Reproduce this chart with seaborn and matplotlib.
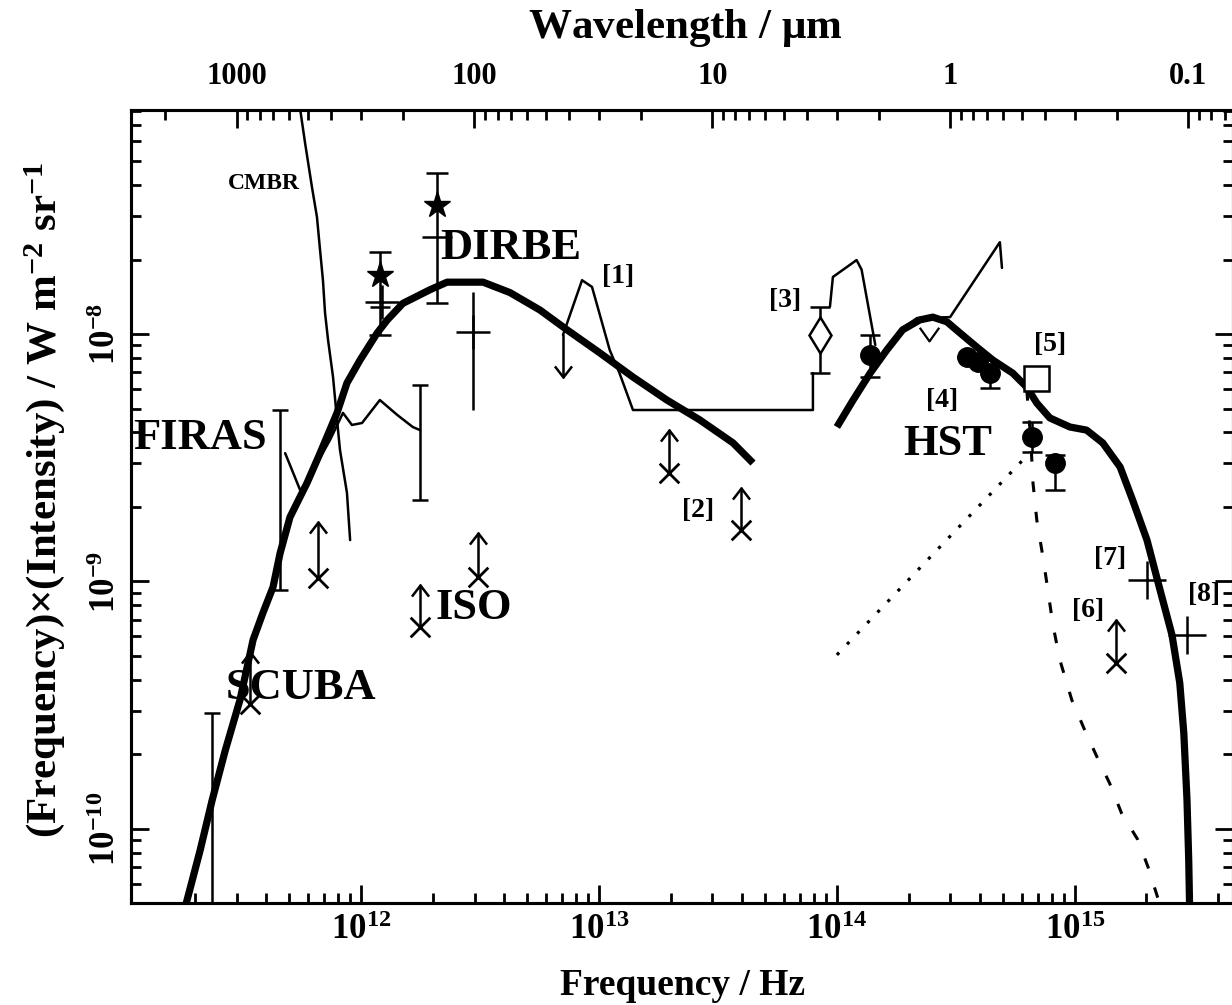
import numpy as np
import pandas as pd
import matplotlib
matplotlib.use("Agg")
import matplotlib.pyplot as plt
from matplotlib.path import Path
from matplotlib.ticker import LogLocator, NullFormatter, FuncFormatter, FixedLocator
import seaborn as sns

# ---------------- data (frequency in Hz, nu*I_nu in W m^-2 sr^-1) ----------------
fir_model_nu = [1.79e11, 2.11e11, 2.37e11, 2.69e11, 3.10e11, 3.52e11, 3.87e11, 4.27e11,
                4.57e11, 5.03e11, 5.93e11, 6.73e11, 7.93e11, 8.73e11, 9.91e11, 1.17e12,
                1.29e12, 1.50e12, 1.95e12, 2.30e12, 3.26e12, 4.23e12, 5.65e12, 7.34e12,
                1.01e13, 1.39e13, 1.93e13, 2.65e13, 3.66e13, 4.44e13]
fir_model_I = [4.5e-11, 8.22e-11, 1.31e-10, 2.08e-10, 3.32e-10, 5.81e-10, 7.46e-10, 9.50e-10,
               1.30e-9, 1.82e-9, 2.50e-9, 3.30e-9, 4.80e-9, 6.34e-9, 7.85e-9, 1.01e-8,
               1.14e-8, 1.33e-8, 1.51e-8, 1.62e-8, 1.62e-8, 1.47e-8, 1.25e-8, 1.04e-8,
               8.38e-9, 6.70e-9, 5.41e-9, 4.50e-9, 3.63e-9, 3.01e-9]

opt_model_nu = [1.00e14, 1.17e14, 1.38e14, 1.62e14, 1.89e14, 2.23e14, 2.53e14, 2.90e14,
                3.29e14, 3.87e14, 4.52e14, 5.48e14, 6.28e14, 6.92e14, 7.85e14, 9.53e14,
                1.12e15, 1.31e15, 1.55e15, 1.75e15, 2.01e15, 2.28e15, 2.56e15, 2.76e15,
                2.87e15, 2.96e15, 3.01e15, 3.04e15]
opt_model_I = [4.21e-9, 5.41e-9, 6.95e-9, 8.61e-9, 1.04e-8, 1.14e-8, 1.17e-8, 1.12e-8,
               1.01e-8, 8.86e-9, 7.85e-9, 6.95e-9, 6.10e-9, 5.26e-9, 4.58e-9, 4.21e-9,
               4.09e-9, 3.63e-9, 2.90e-9, 2.13e-9, 1.47e-9, 9.25e-10, 6.08e-10, 3.89e-10,
               2.44e-10, 1.31e-10, 7.50e-11, 4.50e-11]

stars_nu = [6.28e14, 6.53e14, 6.67e14, 6.92e14, 7.34e14, 7.70e14, 8.09e14, 8.65e14,
            9.71e14, 1.10e15, 1.24e15, 1.40e15, 1.57e15, 1.84e15, 2.03e15, 2.28e15]
stars_I = [5.94e-9, 3.73e-9, 2.50e-9, 1.77e-9, 1.26e-9, 9.24e-10, 6.67e-10, 4.82e-10,
           3.32e-10, 2.51e-10, 1.95e-10, 1.53e-10, 1.16e-10, 9.04e-11, 7.02e-11, 4.93e-11]

dotted_nu = [1.00e14, 6.17e14]
dotted_I = [5.05e-10, 3.16e-9]

cmbr_nu = [5.44e11, 5.82e11, 6.22e11, 6.53e11, 6.73e11, 6.92e11, 7.06e11, 7.27e11,
           7.63e11, 7.93e11, 8.16e11, 8.73e11, 9.00e11]
cmbr_I = [9.25e-8, 5.92e-8, 3.93e-8, 2.97e-8, 2.18e-8, 1.65e-8, 1.22e-8, 9.46e-9,
          6.70e-9, 4.50e-9, 3.40e-9, 2.28e-9, 1.47e-9]

firas_nu = [4.80e11, 5.13e11, 5.55e11, 6.11e11, 6.73e11, 7.41e11, 8.40e11, 9.16e11,
            1.01e12, 1.20e12, 1.42e12, 1.65e12, 1.77e12]
firas_I = [3.30e-9, 2.82e-9, 2.34e-9, 2.57e-9, 3.16e-9, 3.73e-9, 4.80e-9, 4.29e-9,
           4.37e-9, 5.41e-9, 4.71e-9, 4.21e-9, 4.09e-9]

limit1_nu = [7.06e12, 8.49e12, 9.35e12, 1.11e13, 1.22e13, 1.39e13, 7.93e13, 7.93e13]
limit1_I = [9.91e-9, 1.65e-8, 1.55e-8, 8.61e-9, 6.95e-9, 4.93e-9, 4.93e-9, 6.95e-9]
limit3_nu = [9.35e13, 9.62e13, 1.21e14, 1.27e14, 1.34e14, 1.45e14]
limit3_I = [1.29e-8, 1.70e-8, 1.99e-8, 1.82e-8, 1.37e-8, 9.03e-9]
limit4_nu = [1.93e14, 2.17e14, 2.99e14, 4.84e14, 4.94e14]
limit4_I = [1.07e-8, 1.16e-8, 1.17e-8, 2.35e-8, 1.85e-8]

# upper limit arrow at start of [1]
ul_nu = [7.06e12]
ul_I = [9.91e-9]
ul_tip = [6.70e-9]

# error bars without central marker (FIRAS / SCUBA)
eb_nu = [4.57e11, 1.77e12, 2.37e11]
eb_I = [4.09e-9, 4.09e-9, 1.0e-10]
eb_lo = [9.25e-10, 2.13e-9, 3.0e-11]
eb_hi = [4.93e-9, 6.22e-9, 2.94e-10]

# DIRBE detections
dirbe_nu = [1.20e12, 2.08e12]
dirbe_I = [1.73e-8, 3.32e-8]
dirbe_lo = [9.9e-9, 1.33e-8]
dirbe_hi = [2.14e-8, 4.48e-8]

# cross markers with error bars
cross_nu = [1.22e12, 2.96e12]
cross_I = [1.35e-8, 1.02e-8]
cross_lo = [1.35e-8, 4.93e-9]
cross_hi = [1.35e-8, 1.48e-8]

# [7], [8] crosses
uv_cross_nu = [2.01e15, 2.96e15]
uv_cross_I = [1.01e-9, 6.08e-10]

# lower limits (X with upward arrow)
ll_nu = [6.59e11, 1.77e12, 3.10e12, 1.97e13, 3.96e13, 1.49e15, 3.40e11]
ll_I = [1.03e-9, 6.55e-10, 1.04e-9, 2.74e-9, 1.61e-9, 4.69e-10, 3.2e-10]
ll_tip = [1.74e-9, 9.68e-10, 1.57e-9, 4.09e-9, 2.39e-9, 6.98e-10, 5.2e-10]

# [3]
p3_nu = [8.49e13]
p3_I = [9.9e-9]
p3_lo = [6.95e-9]
p3_hi = [1.29e-8]

# HST / ground based galaxy counts
hst_nu = [1.38e14, 3.52e14, 3.91e14, 4.39e14, 6.59e14, 8.24e14]
hst_I = [8.22e-9, 8.07e-9, 7.70e-9, 6.95e-9, 3.84e-9, 3.01e-9]
hst_lo = [6.70e-9, 8.07e-9, 7.70e-9, 6.05e-9, 3.34e-9, 2.34e-9]
hst_hi = [9.9e-9, 8.07e-9, 7.70e-9, 7.4e-9, 4.41e-9, 3.24e-9]

sq_nu = [6.86e14]
sq_I = [6.64e-9]
v_nu = [2.44e14]
v_I = [9.73e-9]

# tick values
freq_ticks = [1e12, 1e13, 1e14, 1e15]
int_ticks = [1e-10, 1e-9, 1e-8]
wave_ticks = [1000, 100, 10, 1, 0.1]

XMIN, XMAX = 1.08e11, 4.62e15
YMIN, YMAX = 5.02e-11, 8.04e-8
C_UM = 2.998e14  # c in micron Hz

# ---------------- style ----------------
sns.set_theme(style="ticks")
plt.rcParams.update({
    "font.family": ["Liberation Serif", "DejaVu Serif"],
    "font.weight": "bold",
    "mathtext.fontset": "custom",
    "mathtext.rm": "Liberation Serif:bold",
    "mathtext.it": "Liberation Serif:bold",
    "mathtext.bf": "Liberation Serif:bold",
    "axes.linewidth": 2.2,
    "axes.edgecolor": "black",
    "xtick.color": "black",
    "ytick.color": "black",
    "text.color": "black",
})

fig = plt.figure(figsize=(12.32, 10.05), dpi=100)
fig.patch.set_facecolor("white")
ax = fig.add_axes([131 / 1232, 1 - 903 / 1005, 1102 / 1232, 793 / 1005])
ax.set_facecolor("white")
ax.set_xscale("log")
ax.set_yscale("log")

K = "black"


def line(nu, val, lw, **kw):
    df = pd.DataFrame({"nu": nu, "I": val})
    sns.lineplot(data=df, x="nu", y="I", sort=False, estimator=None, ax=ax,
                 color=K, lw=lw, legend=False, **kw)


# model curves
line(fir_model_nu, fir_model_I, 5.2, solid_capstyle="butt", solid_joinstyle="round")
line(opt_model_nu, opt_model_I, 5.2, solid_capstyle="butt", solid_joinstyle="round")
line(stars_nu, stars_I, 2.2, dashes=(3.5, 6.5))
ax.plot(dotted_nu, dotted_I, color=K, lw=2.3, linestyle=(0, (1, 3.6)))
# thin curves
line(cmbr_nu, cmbr_I, 1.8)
line(firas_nu, firas_I, 1.8)
line(limit1_nu, limit1_I, 1.8)
line(limit3_nu, limit3_I, 1.8)
line(limit4_nu, limit4_I, 1.8)

# arrows
chev_up = Path([(-1, -1.3), (0, 0), (1, -1.3)], [Path.MOVETO, Path.LINETO, Path.LINETO])
chev_dn = Path([(-1, 1.3), (0, 0), (1, 1.3)], [Path.MOVETO, Path.LINETO, Path.LINETO])
vee = Path([(-1, 1), (0, -0.4), (1, 1)], [Path.MOVETO, Path.LINETO, Path.LINETO])

for n, a, t in zip(ul_nu, ul_I, ul_tip):
    ax.plot([n, n], [a, t], color=K, lw=1.8)
    ax.plot([n], [t], marker=chev_dn, ms=16, mew=1.8, color=K, fillstyle="none")

for n, a, t in zip(ll_nu, ll_I, ll_tip):
    ax.plot([n, n], [a, t], color=K, lw=1.8)
    ax.plot([n], [t], marker=chev_up, ms=16, mew=1.8, color=K, fillstyle="none")
sns.scatterplot(x=ll_nu, y=ll_I, marker="x", s=200, linewidth=2, color=K, ax=ax, legend=False)


def asym(v, lo, hi):
    v = np.asarray(v)
    return [v - np.asarray(lo), np.asarray(hi) - v]


ax.errorbar(eb_nu, eb_I, yerr=asym(eb_I, eb_lo, eb_hi), fmt="none", ecolor=K,
            elinewidth=1.8, capsize=6, capthick=1.8)
ax.errorbar(dirbe_nu, dirbe_I, yerr=asym(dirbe_I, dirbe_lo, dirbe_hi), fmt="*", color=K,
            ms=20, elinewidth=1.8, capsize=8, capthick=1.8)
ax.errorbar(cross_nu, cross_I, yerr=asym(cross_I, cross_lo, cross_hi), fmt="+", color=K,
            ms=24, mew=1.8, elinewidth=1.8)
ax.plot([dirbe_nu[0]], [1.28e-8], marker="_", ms=14, mew=1.8, color=K)
ax.plot([dirbe_nu[1]], [2.47e-8], marker="_", ms=22, mew=1.8, color=K)
sns.scatterplot(x=uv_cross_nu, y=uv_cross_I, marker="+", s=750, linewidth=1.8, color=K,
                ax=ax, legend=False)
ax.errorbar(p3_nu, p3_I, yerr=asym(p3_I, p3_lo, p3_hi), fmt="d", color=K, mfc="white",
            ms=18, mew=1.8, elinewidth=1.8, capsize=7, capthick=1.8)
ax.errorbar(hst_nu, hst_I, yerr=asym(hst_I, hst_lo, hst_hi), fmt="o", color=K,
            ms=14, elinewidth=1.8, capsize=7, capthick=1.8)
ax.plot(sq_nu, sq_I, marker="s", ms=18, mew=1.8, color=K, mfc="white", linestyle="none")
ax.plot(v_nu, v_I, marker=vee, ms=14, mew=1.6, color=K, fillstyle="none", linestyle="none")

# text annotations
big = dict(fontsize=32, fontweight="bold", color=K)
small = dict(fontsize=20, fontweight="bold", color=K, ha="center", va="center")
ax.text(2.15e12, 2.22e-8, "DIRBE", ha="left", va="center", **big)
ax.text(1.10e11, 3.80e-9, "FIRAS", ha="left", va="center", **big)
ax.text(2.05e12, 7.81e-10, "ISO", ha="left", va="center", **big)
ax.text(2.69e11, 3.72e-10, "SCUBA", ha="left", va="center", **big)
ax.text(2.92e14, 3.60e-9, "HST", ha="center", va="center", **big)
ax.text(3.91e11, 4.05e-8, "CMBR", fontsize=17, fontweight="bold", ha="center", va="center")
ax.text(1.20e13, 1.71e-8, "[1]", **small)
ax.text(2.61e13, 1.93e-9, "[2]", **small)
ax.text(6.06e13, 1.36e-8, "[3]", **small)
ax.text(2.76e14, 5.41e-9, "[4]", **small)
ax.text(7.85e14, 9.03e-9, "[5]", **small)
ax.text(1.14e15, 7.60e-10, "[6]", **small)
ax.text(1.40e15, 1.24e-9, "[7]", **small)
ax.text(3.48e15, 8.89e-10, "[8]", **small)

# axes, ticks
ax.set_xlim(XMIN, XMAX)
ax.set_ylim(YMIN, YMAX)
ax.set_xlabel("")
ax.set_ylabel("")
ax.xaxis.set_major_locator(FixedLocator(freq_ticks))
ax.xaxis.set_minor_locator(LogLocator(base=10, subs=np.arange(2, 10), numticks=200))
ax.yaxis.set_major_locator(FixedLocator(int_ticks))
ax.yaxis.set_minor_locator(LogLocator(base=10, subs=np.arange(2, 10), numticks=200))
fmt = FuncFormatter(lambda v, p: r"$\mathrm{10^{%d}}$" % int(round(np.log10(v))))
ax.xaxis.set_major_formatter(fmt)
ax.yaxis.set_major_formatter(fmt)
ax.xaxis.set_minor_formatter(NullFormatter())
ax.yaxis.set_minor_formatter(NullFormatter())
ax.tick_params(which="major", direction="in", length=13, width=2, top=False, right=True,
               labelsize=25, pad=8)
ax.tick_params(which="minor", direction="in", length=7, width=2, top=False, right=True)
ax.tick_params(axis="y", labelrotation=90, pad=6)
for lab in ax.get_yticklabels():
    lab.set_va("center")

ax2 = ax.twiny()
ax2.set_xscale("log")
ax2.set_xlim(C_UM / XMIN, C_UM / XMAX)
ax2.xaxis.set_major_locator(FixedLocator(wave_ticks))
ax2.xaxis.set_minor_locator(LogLocator(base=10, subs=np.arange(2, 10), numticks=200))
ax2.xaxis.set_major_formatter(FuncFormatter(lambda v, p: f"{v:g}"))
ax2.xaxis.set_minor_formatter(NullFormatter())
ax2.tick_params(which="major", direction="in", length=13, width=2, labelsize=22, pad=14)
ax2.tick_params(which="minor", direction="in", length=7, width=2)
for s in list(ax.spines.values()) + list(ax2.spines.values()):
    s.set_linewidth(2.2)
    s.set_color(K)

fig.text(685 / 1232, 1 - 28 / 1005, r"Wavelength / $\mathrm{\mu}$m", fontsize=31,
         fontweight="bold", ha="center", va="center")
fig.text(683 / 1232, 1 - 985 / 1005, "Frequency / Hz", fontsize=27, fontweight="bold",
         ha="center", va="center")
fig.text(45 / 1232, 1 - 500 / 1005,
         r"(Frequency)$\times$(Intensity) / W m$^{-2}$ sr$^{-1}$", fontsize=31,
         fontweight="bold", rotation=90, ha="center", va="center")

fig.savefig("out.png", dpi=100, facecolor="white")
